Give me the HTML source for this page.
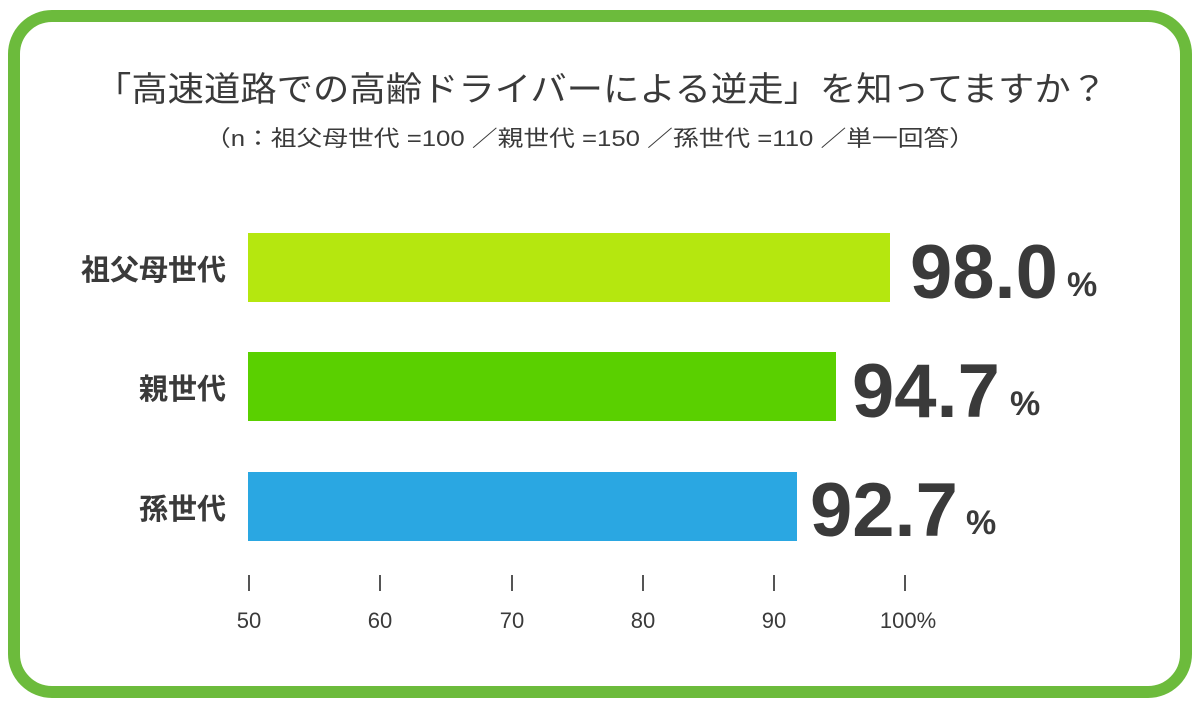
<!DOCTYPE html>
<html><head><meta charset="utf-8"><style>
body{margin:0;background:#fff;}
svg{display:block}
text{font-family:"Liberation Sans","Noto Sans CJK JP",sans-serif;fill:#3a3a3a}
</style></head><body>
<svg width="1200" height="708" viewBox="0 0 1200 708">
<rect x="0" y="0" width="1200" height="708" fill="#fff"/>
<rect x="14" y="16" width="1172" height="676" rx="38" fill="#fff" stroke="#6cbb3c" stroke-width="12"/>
<text x="95" y="101" font-size="34" textLength="1012" lengthAdjust="spacingAndGlyphs">「高速道路での高齢ドライバーによる逆走」を知ってますか？</text>
<text x="205" y="146" font-size="22" textLength="770" lengthAdjust="spacingAndGlyphs">（n：祖父母世代 =100 ／親世代 =150 ／孫世代 =110 ／単一回答）</text>
<rect x="248" y="233" width="642" height="69" fill="#b5e70f"/>
<rect x="248" y="352" width="588" height="69" fill="#5ad000"/>
<rect x="248" y="472" width="549" height="69" fill="#2aa7e2"/>
<text x="226" y="280" font-size="29" text-anchor="end" font-weight="bold">祖父母世代</text>
<text x="226" y="399" font-size="29" text-anchor="end" font-weight="bold">親世代</text>
<text x="226" y="519" font-size="29" text-anchor="end" font-weight="bold">孫世代</text>
<text x="910" y="298" font-size="76" font-weight="bold">98.0</text>
<text x="1067" y="296" font-size="34" font-weight="bold">%</text>
<text x="852" y="417" font-size="76" font-weight="bold">94.7</text>
<text x="1010" y="415" font-size="34" font-weight="bold">%</text>
<text x="810" y="536" font-size="76" font-weight="bold">92.7</text>
<text x="966" y="534" font-size="34" font-weight="bold">%</text>
<g stroke="#555" stroke-width="2">
<line x1="249" y1="575" x2="249" y2="591"/><line x1="380" y1="575" x2="380" y2="591"/>
<line x1="512" y1="575" x2="512" y2="591"/><line x1="643" y1="575" x2="643" y2="591"/>
<line x1="774" y1="575" x2="774" y2="591"/><line x1="905" y1="575" x2="905" y2="591"/>
</g>
<g font-size="22" text-anchor="middle">
<text x="249" y="628">50</text><text x="380" y="628">60</text><text x="512" y="628">70</text>
<text x="643" y="628">80</text><text x="774" y="628">90</text><text x="908" y="628">100%</text>
</g>
</svg>
</body></html>
